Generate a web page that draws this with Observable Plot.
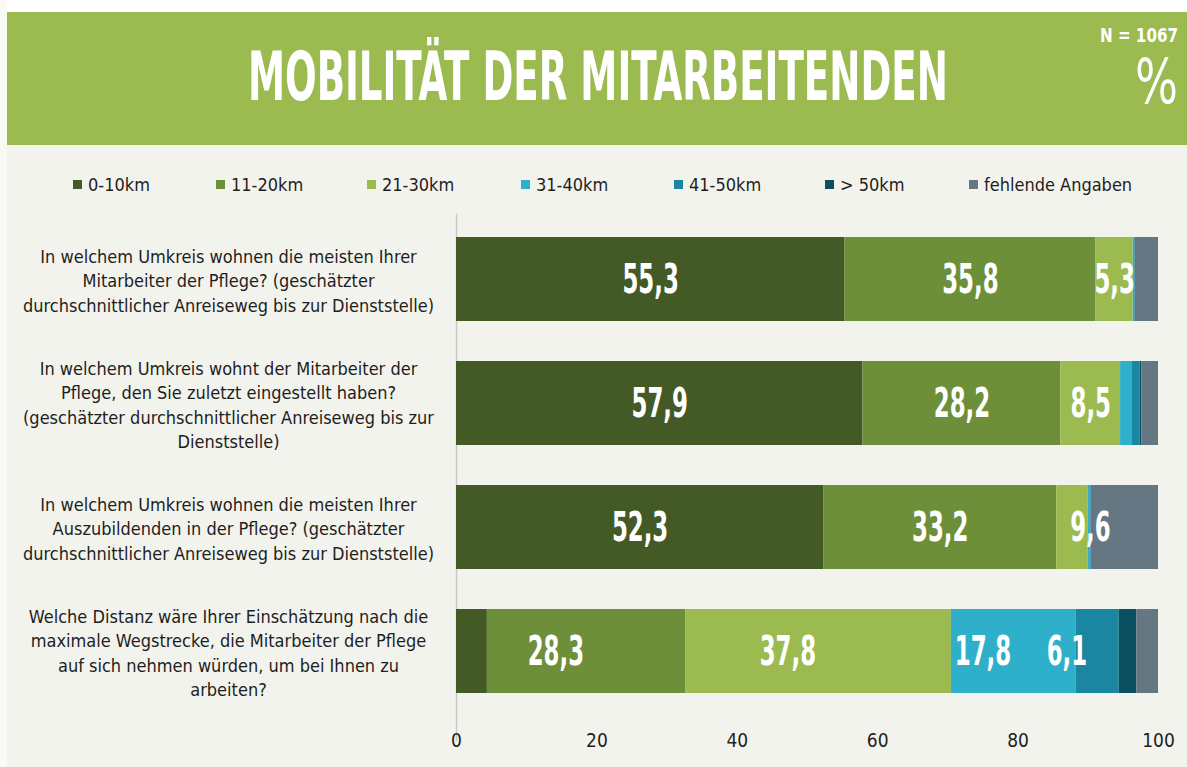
<!DOCTYPE html>
<html>
<head>
<meta charset="utf-8">
<script src="https://cdn.jsdelivr.net/npm/d3@7"></script>
<script src="https://cdn.jsdelivr.net/npm/@observablehq/plot@0.6"></script>
<style>
  html, body { margin: 0; padding: 0; }
  body { width: 1187px; height: 767px; background: #f3f3ed; position: relative; overflow: hidden;
         font-family: "Liberation Sans Narrow", "DejaVu Sans Condensed", "Liberation Sans", sans-serif; }
  #topstrip { position: absolute; left: 0; top: 0; width: 1187px; height: 12px; background: #ffffff; }
  #leftstrip { position: absolute; left: 0; top: 0; width: 7px; height: 767px; background: #f9f9f6; }
  #header { position: absolute; left: 7px; top: 12px; width: 1180px; height: 133px; }
  #legend { position: absolute; left: 0; top: 172px; width: 1187px; height: 24px; }
  .li { position: absolute; top: 0; height: 24px; display: flex; align-items: center; font-size: 18px; color: #1e1e1e; }
  .sw { width: 9px; height: 9px; margin-right: 6px; }
  #chart { position: absolute; left: 0; top: 200px; }
</style>
</head>
<body>
<div id="topstrip"></div>
<div id="leftstrip"></div>
<svg id="header" width="1180" height="133"></svg>
<div id="legend"></div>
<div id="chart"></div>
<script>
// ---- data ----
const questions = [
  "In welchem Umkreis wohnen die meisten Ihrer\nMitarbeiter der Pflege? (geschätzter\ndurchschnittlicher Anreiseweg bis zur Dienststelle)",
  "In welchem Umkreis wohnt der Mitarbeiter der\nPflege, den Sie zuletzt eingestellt haben?\n(geschätzter durchschnittlicher Anreiseweg bis zur\nDienststelle)",
  "In welchem Umkreis wohnen die meisten Ihrer\nAuszubildenden in der Pflege? (geschätzter\ndurchschnittlicher Anreiseweg bis zur Dienststelle)",
  "Welche Distanz wäre Ihrer Einschätzung nach die\nmaximale Wegstrecke, die Mitarbeiter der Pflege\nauf sich nehmen würden, um bei Ihnen zu\narbeiten?"
];
const categories = ["0-10km", "11-20km", "21-30km", "31-40km", "41-50km", "> 50km", "fehlende Angaben"];
const km0_10   = [55.3, 57.9, 52.3, 4.4];
const km11_20  = [35.8, 28.2, 33.2, 28.3];
const km21_30  = [5.3, 8.5, 4.5, 37.8];
const km31_40  = [0.2, 1.7, 0.3, 17.8];
const km41_50  = [0.1, 1.1, 0.1, 6.1];
const km50plus = [0.0, 0.2, 0.0, 2.5];
const missing  = [3.3, 2.4, 9.6, 3.1];
const xTicks = [0, 20, 40, 60, 80, 100];
const colors = ["#435a26", "#6e8f3a", "#9bbb50", "#2eb0cb", "#1a86a1", "#0b5060", "#667784"];
const titleText = "MOBILITÄT DER MITARBEITENDEN";
const nText = "N = 1067";

const series = [km0_10, km11_20, km21_30, km31_40, km41_50, km50plus, missing];
const rows = [];
questions.forEach((q, i) => {
  series.forEach((s, j) => rows.push({question: q, category: categories[j], value: s[i]}));
});

// ---- header ----
const condensed = "'Liberation Sans Narrow', 'DejaVu Sans Condensed', sans-serif";
const hdr = d3.select("#header");
hdr.append("rect").attr("width", 1180).attr("height", 133).attr("fill", "#9bba50");
// place a text, then squeeze it horizontally to the wanted width
function squeezed(text, x, baseline, size, width, weight) {
  const t = hdr.append("text").text(text)
    .attr("font-family", condensed).attr("font-weight", weight).attr("font-size", size).attr("fill", "#fff");
  const w = t.node().getComputedTextLength();
  t.attr("transform", `translate(${x},${baseline}) scale(${(width / w).toFixed(4)},1)`);
}
squeezed(titleText, 241, 88, 68, 700, "bold");
squeezed(nText, 1093, 30, 19, 78, "bold");
squeezed("%", 1128, 91, 62, 43, "normal");

// ---- legend ----
const legendX = [73, 216, 367, 521, 674, 825, 969];
const lg = d3.select("#legend");
categories.forEach((c, i) => {
  const it = lg.append("div").attr("class", "li").style("left", legendX[i] + "px");
  it.append("div").attr("class", "sw").style("background", colors[i]);
  it.append("span").text(c);
});

// ---- chart ----
const fmt = v => v.toFixed(1).replace(".", ",");
const chart = Plot.plot({
  width: 1187,
  height: 563,
  marginLeft: 456,
  marginRight: 29,
  marginTop: 16,
  marginBottom: 50,
  style: {background: "transparent", fontFamily: condensed},
  x: {domain: [0, 100]},
  y: {domain: questions, paddingInner: 0.325, paddingOuter: 0.16, axis: null},
  color: {domain: categories, range: colors},
  marks: [
    Plot.ruleX([0], {stroke: "#c9c9c4", strokeWidth: 1.5, insetBottom: -28, insetTop: -2}),
    Plot.barX(rows, Plot.stackX({x: "value", y: "question", fill: "category", order: null})),
    Plot.text(rows, Plot.stackX({
      filter: d => d.value >= 5,
      x: "value", y: "question", order: null,
      text: d => fmt(d.value),
      fill: "#fff", fontSize: 41, fontWeight: "bold"
    })),
    Plot.text(questions, {
      y: d => d, frameAnchor: "left", dx: -228, textAnchor: "middle",
      text: d => d, fontSize: 18, lineHeight: 1.36, fill: "#1e1e1e"
    }),
    Plot.axisX({ticks: xTicks, tickSize: 0, tickPadding: 20, fontSize: 19, label: null, color: "#1e1e1e"})
  ]
});
document.getElementById("chart").appendChild(chart);
// condense the bar value labels (e.g. "55,3") to mimic the narrow display font
d3.select(chart).selectAll("text").each(function() {
  if (!/^\d+,\d$/.test(this.textContent.trim())) return;
  const w = this.getComputedTextLength();
  if (w > 0) {
    this.setAttribute("textLength", (w * 0.62).toFixed(1));
    this.setAttribute("lengthAdjust", "spacingAndGlyphs");
  }
});
</script>
</body>
</html>
